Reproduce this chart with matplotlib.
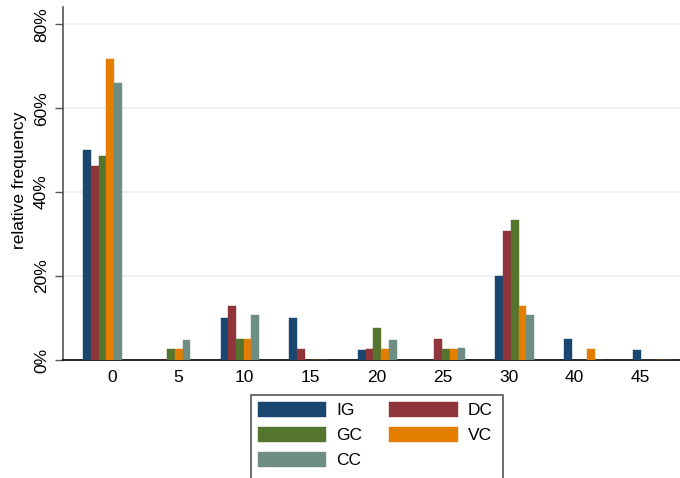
import matplotlib
matplotlib.use("Agg")
import matplotlib.pyplot as plt
import numpy as np
from matplotlib.patches import Rectangle
from matplotlib.ticker import FuncFormatter

categories = ["0", "5", "10", "15", "20", "25", "30", "40", "45"]
series_names = ["IG", "DC", "GC", "VC", "CC"]
IG = [50.0, 0.0, 10.0, 10.0, 2.5, 0.0, 20.0, 5.0, 2.5]
DC = [46.2, 0.0, 12.8, 2.6, 2.6, 5.1, 30.8, 0.0, 0.0]
GC = [48.7, 2.6, 5.1, 0.0, 7.7, 2.6, 33.3, 0.0, 0.0]
VC = [71.8, 2.6, 5.1, 0.0, 2.6, 2.6, 12.8, 2.6, 0.0]
CC = [66.0, 4.8, 10.8, 0.0, 4.8, 2.9, 10.7, 0.0, 0.0]
yticks = [0, 20, 40, 60, 80]

colors = ["#1a476f", "#90353b", "#55752f", "#e37e00", "#6e8e84"]

plt.rcParams['font.family'] = ['Liberation Sans', 'DejaVu Sans']
fs = 12.5

fig = plt.figure(figsize=(6.8, 4.78), dpi=100)
ax = fig.add_axes([63/680, 1-360/478, 1-63/680, (360-7)/478])

bw = 0.112
x = np.arange(len(categories))
handles = []
for k, (name, vals) in enumerate(zip(series_names, [IG, DC, GC, VC, CC])):
    h = ax.bar(x + k*bw, vals, width=bw, align='edge', color=colors[k],
               edgecolor=colors[k], linewidth=0.3, label=name, zorder=3)
    handles.append(h)

# Stata-like label placement (labels slightly offset from bar groups)
label_pos = 0.425 + x * 0.961
ax.set_xticks(label_pos)
ax.set_xticklabels(categories, fontsize=fs)
ax.tick_params(axis='x', length=0, pad=7)

ax.set_xlim(-0.295, 8.686)
ax.set_ylim(0, 84.1)
ax.set_yticks(yticks)
ax.yaxis.set_major_formatter(FuncFormatter(lambda v, p: f"{int(v)}%"))
for t in ax.get_yticklabels():
    t.set_rotation(90)
    t.set_va('center')
ax.tick_params(axis='y', direction='out', length=6, width=1, color='#555555',
               labelsize=fs, pad=4)
ax.grid(axis='y', color='#e6eef1', linewidth=1.2, zorder=0)
ax.set_axisbelow(True)

for s in ['top', 'right']:
    ax.spines[s].set_visible(False)
ax.spines['left'].set_color('#555555')
ax.spines['left'].set_linewidth(1.2)
ax.spines['bottom'].set_color('#000000')
ax.spines['bottom'].set_linewidth(1.2)

ax.set_ylabel("relative frequency", fontsize=fs)
ax.yaxis.set_label_coords(-0.058, 0.51)

order = [0, 2, 4, 1, 3]
leg = fig.legend([handles[i] for i in order], [series_names[i] for i in order],
                 ncol=2, loc='upper left',
                 bbox_to_anchor=(257.7/680, 1-401.5/478), frameon=False,
                 fontsize=fs, handlelength=3.95, handleheight=1.03,
                 handletextpad=0.57, columnspacing=1.56, labelspacing=0.47,
                 borderpad=0, borderaxespad=0)

fig.patches.append(Rectangle((250.7/680, -0.05), (503-250.7)/680, 0.05+1-395/478,
                             transform=fig.transFigure, fill=False,
                             edgecolor='#555555', linewidth=1.2))

fig.savefig("out.png", dpi=100)
